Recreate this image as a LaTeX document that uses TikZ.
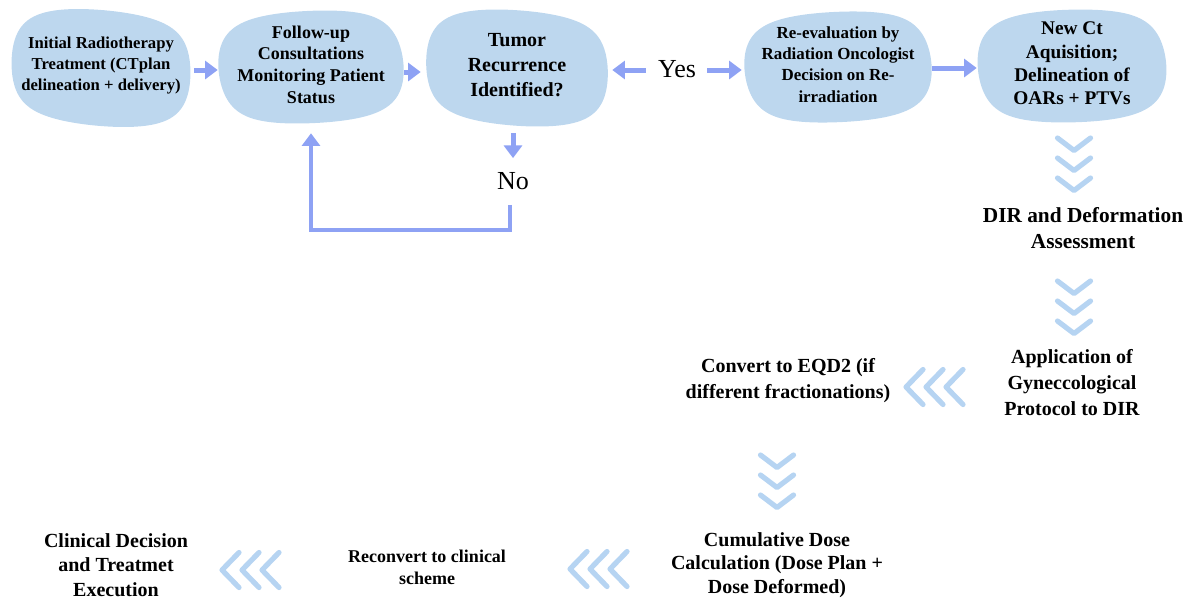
\documentclass[tikz,border=0pt]{standalone}
\usepackage{fontspec}
\setmainfont{Liberation Serif}
\usetikzlibrary{arrows.meta,calc}

\definecolor{blobblue}{HTML}{BDD7EE}
\definecolor{arrowblue}{HTML}{8EA2F4}
\definecolor{chevblue}{HTML}{B6D4F2}

\newcommand\fsz[2]{\fontsize{#1}{#2}\selectfont}

\tikzset{
  blobfill/.style={fill=blobblue},
  blobtext/.style={inner sep=0pt, align=center},
  steptext/.style={inner sep=0pt, align=center},
  answer/.style={inner sep=0pt, font=\fsz{19.5}{22}},
  flow/.style={draw=arrowblue, line width=3.75pt, -{Triangle[width=13.5pt,length=9.5pt]}},
  loopflow/.style={flow, line width=3.2pt},
  chev/.style={draw=chevblue, line width=3.9pt, line cap=round, line join=round},
  downchev/.pic={\foreach \k in {0,1,2}{\draw[chev] (-16.5,20*\k) -- (0,20*\k+12.5) -- (16.5,20*\k);}},
  leftchev/.pic={\foreach \k in {0,1,2}{\draw[chev] (20*\k+17,-17.5) -- (20*\k,0) -- (20*\k+17,17.5);}},
}

% cloud-like process box (a soft, slightly lopsided oval); the text sits a
% little above the middle of the shape
% name, centre x, centre y, half width, half height, font size, baselineskip, text, tilt
\newcommand\cloudnode[9]{%
  \begin{scope}[shift={(#2,#3)}, rotate=#9]
    \fill[blobfill] plot[domain=0:360, samples=120]
      ({#4*(cos(\x)-0.05*cos(3*\x))*(1+0.025*sin(2*\x+#9*9))/0.95},
       {#5*(sin(\x)+0.05*sin(3*\x))*(1+0.025*sin(2*\x+#9*9))/0.95}) -- cycle;
  \end{scope}
  \node[blobtext, font=\bfseries\fsz{#6}{#7}, minimum width=#4*1.5pt,
        minimum height=#5*1.5pt] (#1) at (#2,#3-2.5) {#8};%
}

\begin{document}
\begin{tikzpicture}[x=0.75pt,y=-0.75pt]
\useasboundingbox (0,0) rectangle (1198,601);

% top row of process boxes
\cloudnode{init}{101}{68}{91}{57}{12.5}{15.4}{Initial Radiotherapy\\Treatment (CTplan\\delineation + delivery)}{-4}
\cloudnode{follow}{311}{67}{91}{57}{13.5}{16.3}{Follow-up\\Consultations\\Monitoring Patient\\Status}{4}
\cloudnode{tumor}{517}{68}{92}{57}{15}{18.7}{Tumor\\Recurrence\\Identified?}{-3}
\cloudnode{reeval}{838}{67}{92}{56}{12.7}{16}{Re-evaluation by\\Radiation Oncologist\\Decision on Re-\\irradiation}{4}
\cloudnode{newct}{1072}{66}{93}{57}{14.5}{17.5}{New Ct\\Aquisition;\\Delineation of\\OARs + PTVs}{3}

% decision answers
\node[answer] (yes) at (677,69) {Yes};
\node[answer] (no) at (513,181) {No};

% later steps
\node[steptext, font=\bfseries\fsz{16}{20}] (dir) at (1083,228) {DIR and Deformation\\Assessment};
\node[steptext, font=\bfseries\fsz{15}{19.5}] (appl) at (1072,383) {Application of\\Gyneccological\\Protocol to DIR};
\node[steptext, font=\bfseries\fsz{15}{19.5}] (eqd) at (788,381) {Convert to EQD2 (if\\different fractionations)};
\node[steptext, font=\bfseries\fsz{15}{17.6}] (cum) at (777,565) {Cumulative Dose\\Calculation (Dose Plan +\\Dose Deformed)};
\node[steptext, font=\bfseries\fsz{13.5}{16.5}] (recon) at (427,567) {Reconvert to clinical\\scheme};
\node[steptext, font=\bfseries\fsz{15}{18.2}] (clin) at (116,565) {Clinical Decision\\and Treatmet\\Execution};

% arrows between the boxes
\draw[flow] ($(init.east)+(2,4.5)$) -- ($(init.east -| follow.west)+(-2,4.5)$);
\draw[flow] ($(follow.east)+(2,7.5)$) -- ($(follow.east -| tumor.west)+(-4,7.5)$);
\draw[flow] ($(yes.west)+(-12,1)$) -- ($(yes.west -| tumor.east)+(3,1)$);
\draw[flow] ($(yes.east)+(11,1)$) -- ($(yes.east -| reeval.west)+(-4,1)$);
\draw[flow] ($(reeval.east)+(2,3.5)$) -- ($(reeval.east -| newct.west)+(-2,3.5)$);
\draw[flow] ($(tumor.south -| no)+(0,10.5)$) -- ($(no.north)+(0,-14)$);
\draw[loopflow] ($(no.south)+(-3,15)$) |- ($(follow.south)+(0,108.5)$) -- ($(follow.south)+(0,11.5)$);

% chevron markers
\pic at (1074,138) {downchev};
\pic at (1074,281) {downchev};
\pic at (777,455) {downchev};
\pic at (906,387) {leftchev};
\pic at (570,569) {leftchev};
\pic at (222,570) {leftchev};
\end{tikzpicture}
\end{document}
